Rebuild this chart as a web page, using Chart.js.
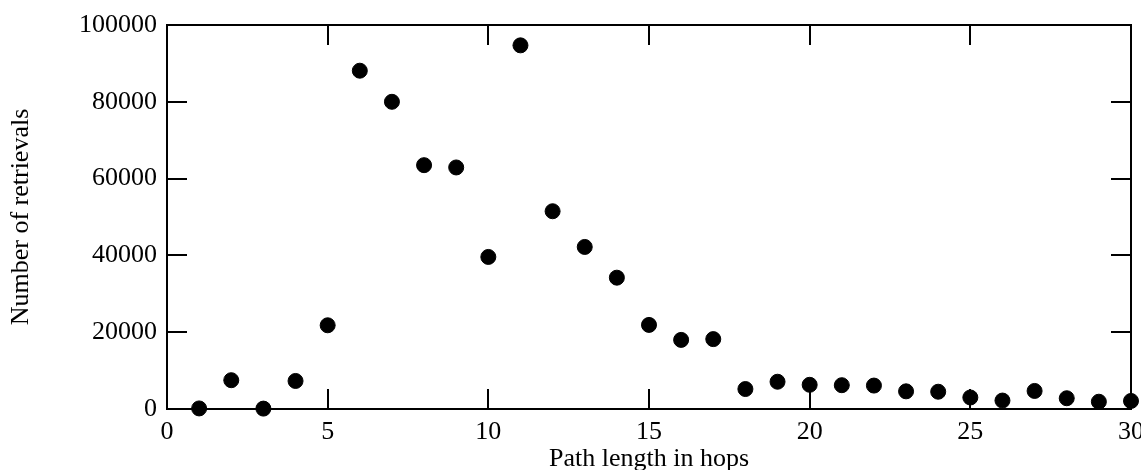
<!doctype html>
<html>

<head>
  <script src="https://cdn.jsdelivr.net/npm/chart.js@4/dist/chart.umd.min.js"></script>
  <style>
    body { margin: 0; background: #fff; }
    #wrap { width: 1141px; height: 470px; }
  </style>
</head>

<body>
  <div id="wrap">
    <canvas id="canvas"></canvas>
  </div>
  <script>
    // path length (hops) vs number of retrievals
    const hops = [1, 2, 3, 4, 5, 6, 7, 8, 9, 10, 11, 12, 13, 14, 15,
      16, 17, 18, 19, 20, 21, 22, 23, 24, 25, 26, 27, 28, 29, 30];
    const retrievals = [150, 7500, 100, 7300, 21800, 88100, 80000, 63500, 62900, 39600,
      94700, 51500, 42200, 34200, 21900, 18000, 18200, 5200, 7100, 6300,
      6200, 6100, 4600, 4500, 3000, 2200, 4700, 2800, 1900, 2100];
    const xTicks = [0, 5, 10, 15, 20, 25, 30];
    const yTicks = [0, 20000, 40000, 60000, 80000, 100000];

    const font = { family: '"Liberation Serif", "Times New Roman", serif', size: 26 };

    // grace-style frame with ticks pointing into the plot on all four sides
    const frame = {
      id: 'frame',
      afterDatasetsDraw(chart) {
        const { ctx, chartArea: a, scales } = chart;
        const len = 20;
        ctx.save();
        ctx.strokeStyle = '#000';
        ctx.lineWidth = 2;
        ctx.beginPath();
        xTicks.forEach((v) => {
          const px = Math.round(scales.x.getPixelForValue(v));
          ctx.moveTo(px, a.bottom); ctx.lineTo(px, a.bottom - len);
          ctx.moveTo(px, a.top); ctx.lineTo(px, a.top + len);
        });
        yTicks.forEach((v) => {
          const py = Math.round(scales.y.getPixelForValue(v));
          ctx.moveTo(a.left, py); ctx.lineTo(a.left + len, py);
          ctx.moveTo(a.right, py); ctx.lineTo(a.right - len, py);
        });
        ctx.stroke();
        ctx.strokeRect(a.left, a.top, a.right - a.left, a.bottom - a.top);
        ctx.restore();
      }
    };

    new Chart(document.getElementById('canvas').getContext('2d'), {
      type: 'scatter',
      data: {
        datasets: [{
          data: hops.map((h, i) => ({ x: h, y: retrievals[i] })),
          backgroundColor: '#000',
          borderColor: '#000',
          pointRadius: 7.5,
          clip: false
        }]
      },
      options: {
        responsive: true,
        maintainAspectRatio: false,
        animation: false,
        events: [],
        layout: { padding: { left: 0, right: 10, top: 25, bottom: 0 } },
        plugins: { legend: { display: false }, tooltip: { enabled: false } },
        scales: {
          x: {
            type: 'linear',
            min: 0,
            max: 30,
            afterBuildTicks: (s) => { s.ticks = xTicks.map((v) => ({ value: v })); },
            afterFit: (s) => { s.height = 61; s.paddingLeft = 0; s.paddingRight = 0; },
            grid: { display: false, drawTicks: false },
            border: { display: false },
            ticks: { color: '#000', font, padding: 8, maxRotation: 0 },
            title: { display: true, text: 'Path length in hops', color: '#000', font, padding: { top: 0, bottom: -5 } }
          },
          y: {
            min: 0,
            max: 100000,
            afterBuildTicks: (s) => { s.ticks = yTicks.map((v) => ({ value: v })); },
            afterFit: (s) => { s.width = 167; s.paddingTop = 0; s.paddingBottom = 0; },
            grid: { display: false, drawTicks: false },
            border: { display: false },
            ticks: { color: '#000', font, padding: 10, callback: (v) => String(v) },
            title: { display: true, text: 'Number of retrievals', color: '#000', font, padding: { top: 6, bottom: 0 } }
          }
        }
      },
      plugins: [frame]
    });
  </script>
</body>

</html>
